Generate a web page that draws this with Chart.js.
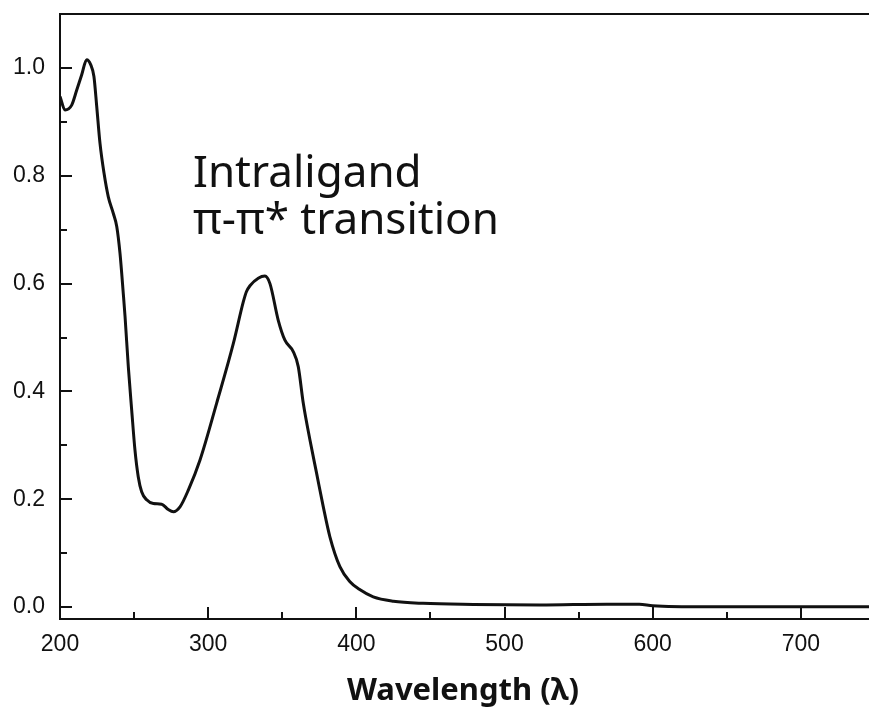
<!DOCTYPE html>
<html><head><meta charset="utf-8">
<script src="https://cdn.jsdelivr.net/npm/chart.js@4.4.0/dist/chart.umd.min.js"></script>
<style>html,body{margin:0;padding:0;background:#fff;overflow:hidden}#wrap{position:relative;width:869px;height:711px}</style>
</head><body><div id="wrap"><canvas id="c" width="869" height="711"></canvas></div>
<script>
const wavelength = [200, 203.4, 207.9, 211.3, 214.6, 218, 220.7, 222.9, 224.8, 227, 229.7, 232.6, 236, 238.3, 240.5, 242.7, 243.9, 246.1, 248.4, 250.6, 252.8, 255.1, 258.5, 263, 268.6, 273.1, 276.5, 281, 286.6, 294.5, 305.7, 317, 323.7, 325.8, 328.2, 333.8, 338.3, 341.7, 347.3, 351.8, 357.4, 360.8, 364.2, 368.7, 373.2, 377.7, 382.2, 388.9, 395.7, 402, 411.4, 425, 445, 479, 524, 569, 591, 600, 636, 746];
const absorbance = [0.947, 0.922, 0.931, 0.959, 0.987, 1.015, 1.006, 0.984, 0.928, 0.860, 0.805, 0.761, 0.730, 0.706, 0.656, 0.582, 0.539, 0.446, 0.365, 0.291, 0.242, 0.214, 0.199, 0.192, 0.191, 0.181, 0.177, 0.186, 0.217, 0.273, 0.378, 0.489, 0.566, 0.585, 0.596, 0.610, 0.614, 0.600, 0.532, 0.495, 0.474, 0.446, 0.378, 0.310, 0.248, 0.186, 0.130, 0.075, 0.047, 0.033, 0.019, 0.011, 0.007, 0.005, 0.004, 0.0055, 0.0055, 0.0025, 0.0005, 0.0005];
const xTickValues = [200, 300, 400, 500, 600, 700];
const xMinorValues = [250, 350, 450, 550, 650];
const yTickValues = [0.0, 0.2, 0.4, 0.6, 0.8, 1.0];
const yMinorValues = [0.1, 0.3, 0.5, 0.7, 0.9];
const xTitle = 'Wavelength (λ)';
const annotationLines = ['Intraligand', 'π-π* transition'];

const INK = '#111';

const framePlugin = {
  id: 'frame',
  afterDraw(chart) {
    const ctx = chart.ctx;
    const {left, right, top, bottom} = chart.chartArea;
    const xs = chart.scales.x, ys = chart.scales.y;
    ctx.save();
    ctx.strokeStyle = INK;
    ctx.lineWidth = 2;
    ctx.beginPath();
    ctx.moveTo(left - 1, top);
    ctx.lineTo(right, top);
    ctx.stroke();
    ctx.beginPath();
    yTickValues.forEach(v => { const y = Math.round(ys.getPixelForValue(v)); ctx.moveTo(left, y); ctx.lineTo(left + 12, y); });
    yMinorValues.forEach(v => { const y = Math.round(ys.getPixelForValue(v)); ctx.moveTo(left, y); ctx.lineTo(left + 7, y); });
    xTickValues.forEach(v => { const x = Math.round(xs.getPixelForValue(v)); ctx.moveTo(x, bottom); ctx.lineTo(x, bottom - 12); });
    xMinorValues.forEach(v => { const x = Math.round(xs.getPixelForValue(v)); ctx.moveTo(x, bottom); ctx.lineTo(x, bottom - 7); });
    ctx.stroke();
    ctx.fillStyle = INK;
    ctx.textAlign = 'center';
    ctx.textBaseline = 'alphabetic';
    ctx.font = 'bold 31px "Noto Sans"';
    ctx.fillText(xTitle, 463, 700);
    ctx.textAlign = 'left';
    ctx.font = '44px "Noto Sans"';
    ctx.fillText(annotationLines[0], 193, 187);
    ctx.fillText(annotationLines[1], 193, 234);
    ctx.restore();
  }
};

new Chart(document.getElementById('c'), {
  type: 'scatter',
  data: {
    datasets: [{
      data: wavelength.map((w, i) => ({x: w, y: absorbance[i]})),
      showLine: true,
      borderColor: INK,
      borderWidth: 3,
      pointRadius: 0,
      cubicInterpolationMode: 'monotone',
      fill: false
    }]
  },
  options: {
    responsive: false,
    animation: false,
    devicePixelRatio: 1,
    layout: {padding: {top: 14, left: 0, right: 0, bottom: 0}},
    plugins: {legend: {display: false}, tooltip: {enabled: false}},
    scales: {
      x: {
        type: 'linear', min: 200, max: 746,
        afterBuildTicks: s => { s.ticks = xTickValues.map(v => ({value: v})); },
        afterFit: s => { s.height = 92; s.paddingLeft = 0; s.paddingRight = 0; },
        grid: {display: false, drawTicks: false},
        border: {display: true, color: INK, width: 2},
        ticks: {color: INK, font: {family: '"Liberation Sans", Arial', size: 23}, padding: 12, maxRotation: 0,
          callback: v => String(v)}
      },
      y: {
        type: 'linear', min: -0.022, max: 1.1,
        afterBuildTicks: s => { s.ticks = yTickValues.map(v => ({value: v})); },
        afterFit: s => { s.width = 60; s.paddingTop = 0; s.paddingBottom = 0; },
        grid: {display: false, drawTicks: false},
        border: {display: true, color: INK, width: 2},
        ticks: {color: INK, font: {family: '"Liberation Sans", Arial', size: 23}, padding: 15,
          callback: v => Number(v).toFixed(1)}
      }
    }
  },
  plugins: [framePlugin]
});
</script>
</body></html>
